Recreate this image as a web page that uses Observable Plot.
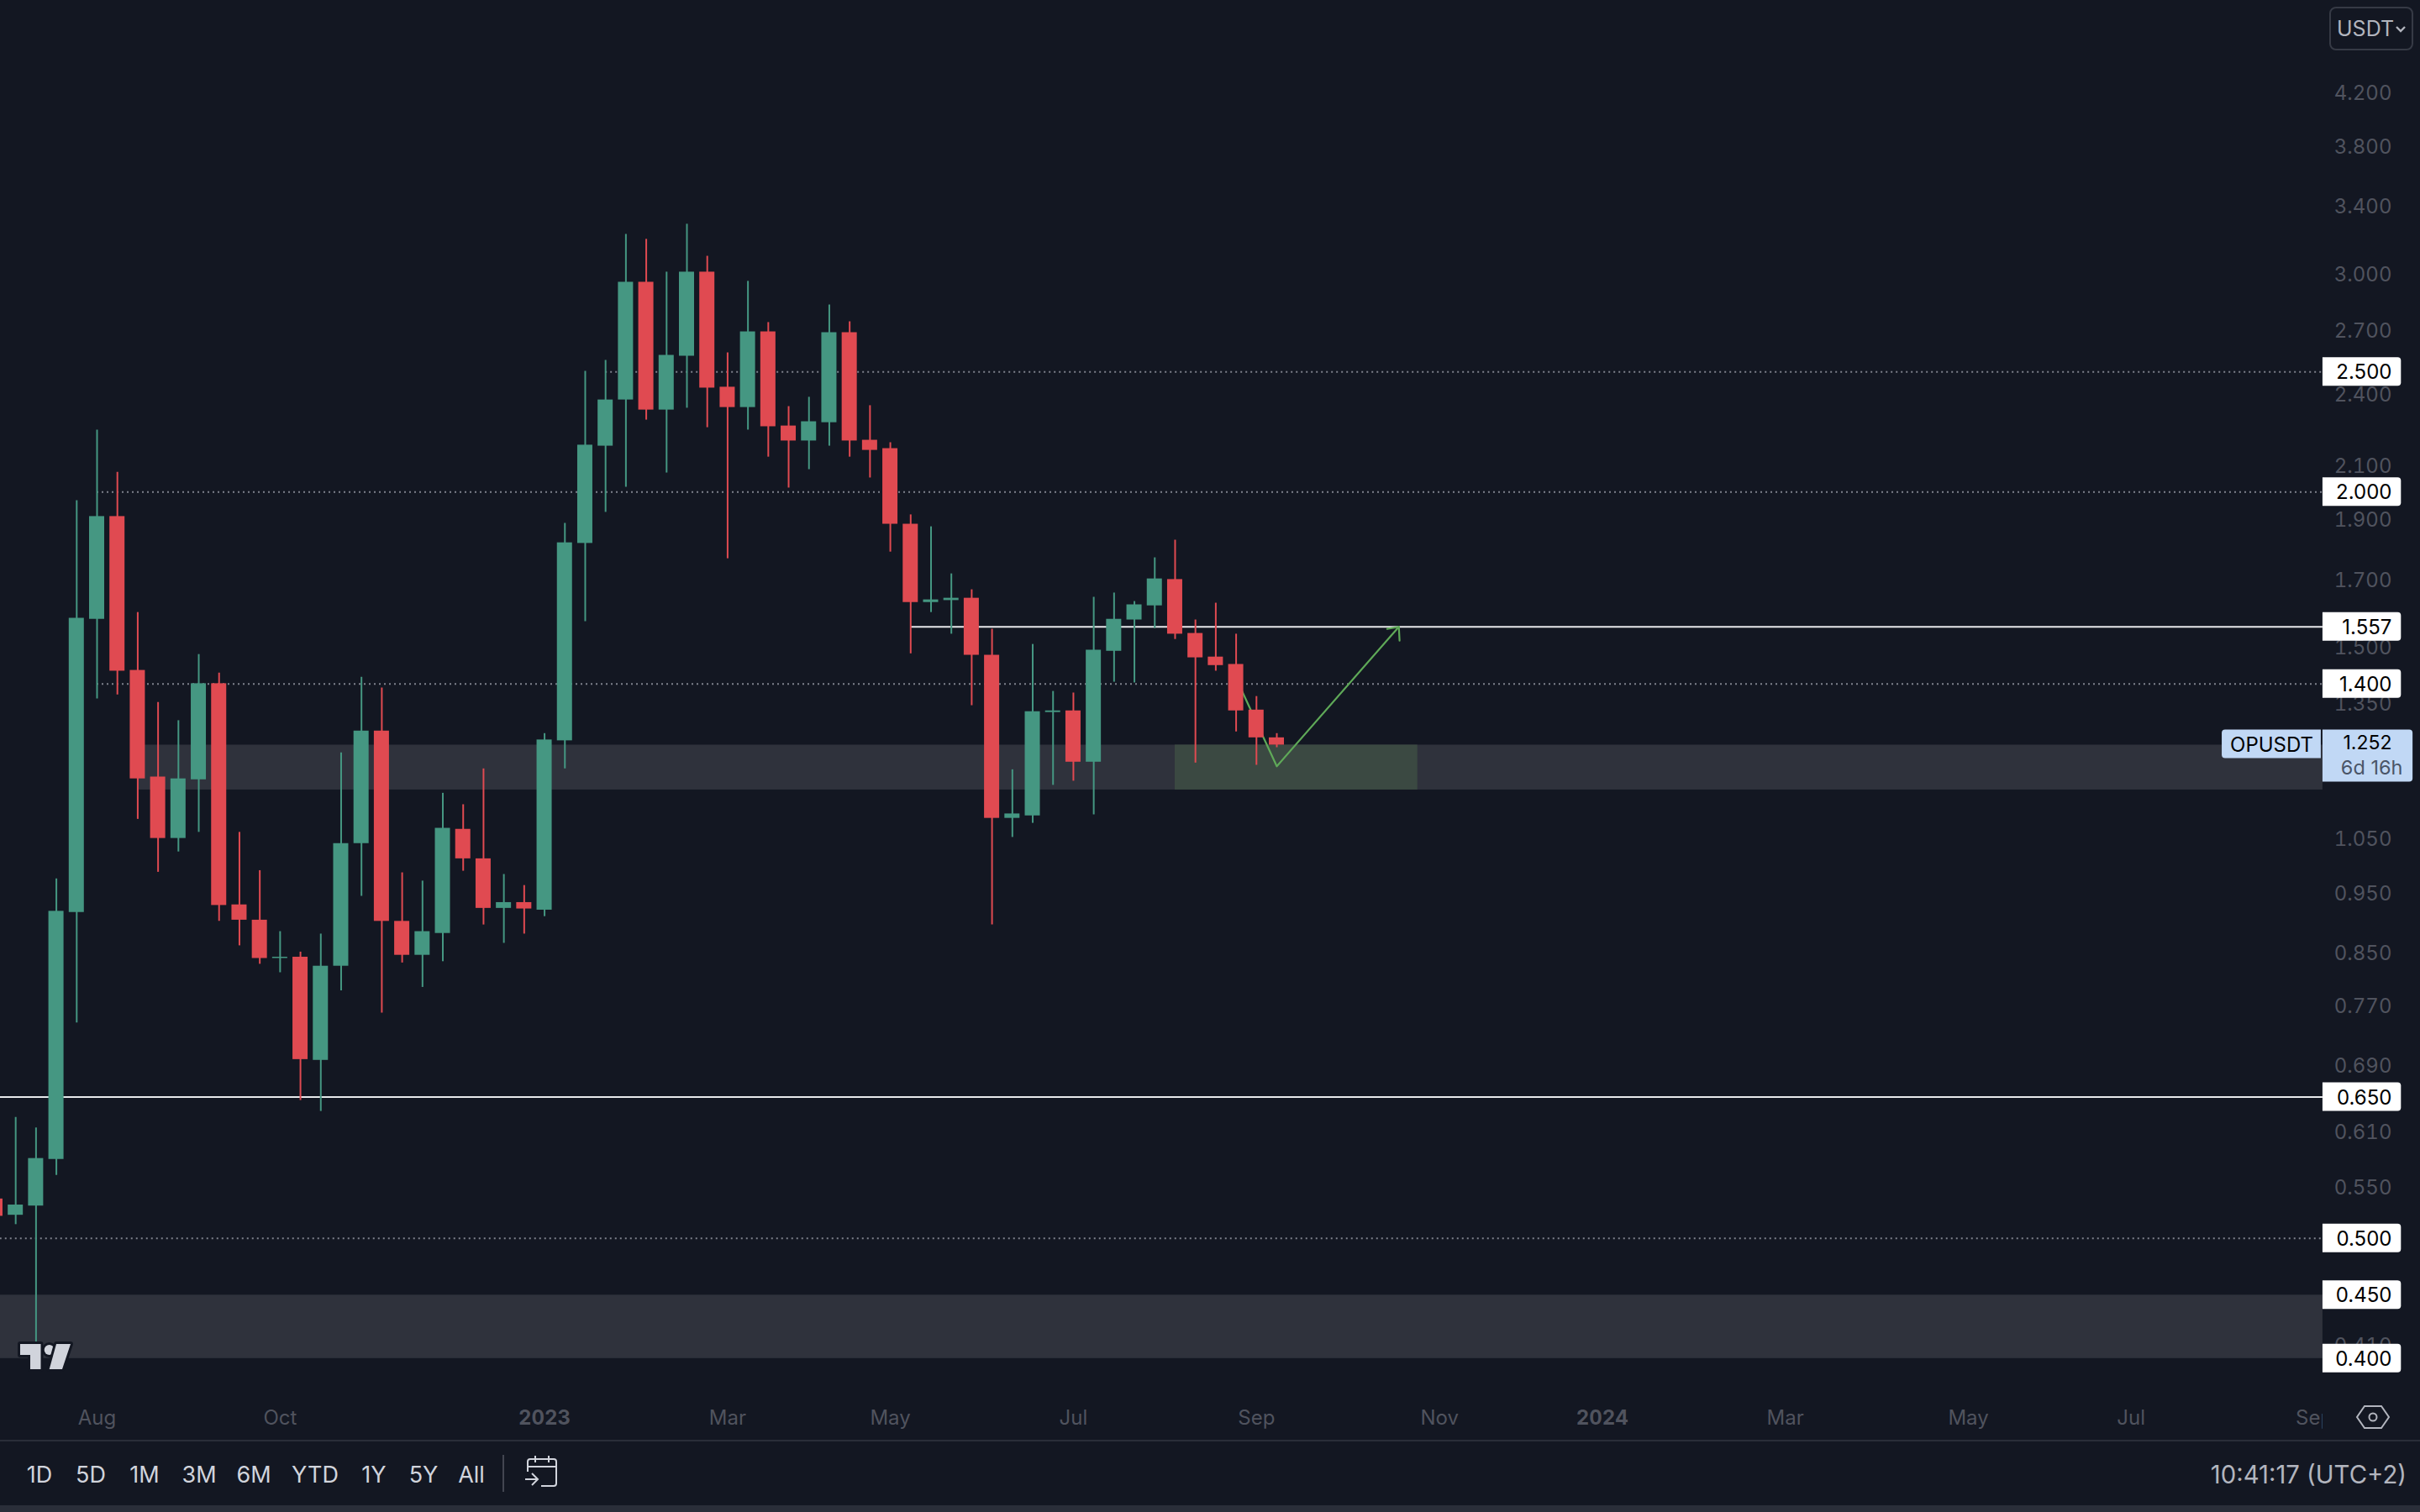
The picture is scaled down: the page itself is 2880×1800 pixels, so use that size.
<!DOCTYPE html>
<html><head><meta charset="utf-8">
<script src="https://cdn.jsdelivr.net/npm/d3@7"></script>
<script src="https://cdn.jsdelivr.net/npm/@observablehq/plot@0.6"></script>
<style>
html,body{margin:0;padding:0;background:#131722;overflow:hidden;width:2880px;height:1800px;font-family:Inter,sans-serif}
#wrap{position:relative;width:2880px;height:1800px}
#chart svg{display:block}
.abs{position:absolute}
#toolbar span{position:absolute;top:0;transform:translateX(-50%);line-height:80px;font-size:27px;color:#d1d4dc}
</style></head><body>
<div id="wrap">
<div id="chart"></div>
<div class="abs" style="left:2764px;top:1660px;width:116px;height:54px;background:#131722">
 <svg class="abs" style="left:38px;top:8px" width="44" height="38" viewBox="0 0 44 38" fill="none" stroke="#b2b5be" stroke-width="2"><path d="M12 6H32L41 19L32 32H12L3 19Z"/><circle cx="22" cy="19" r="4.5"/></svg>
</div>
<div class="abs" style="left:2772px;top:8px;width:96px;height:48px;border:2px solid #363a45;border-radius:8px;box-sizing:content-box;color:#b2b5be;font-size:25px;line-height:48px">
 <span style="position:absolute;left:7px">USDT</span>
 <svg class="abs" style="left:76px;top:20px" width="14" height="10" viewBox="0 0 14 10" fill="none" stroke="#b2b5be" stroke-width="2.4"><path d="M2 2L7 7L12 2"/></svg>
</div>
<svg class="abs" style="left:16px;top:1594px" width="76" height="42" viewBox="16 1594 76 42">
 <g fill="#d1d4dc" stroke="#131722" stroke-width="6" paint-order="stroke" stroke-linejoin="round">
  <path d="M24 1600H48.5V1630H36V1613H24Z"/><circle cx="58.7" cy="1607" r="6"/><path d="M67 1600H84L74 1630H58.7Z"/>
 </g>
</svg>
<div class="abs" style="left:0;top:1714px;width:2880px;height:2px;background:#2a2e39"></div>
<div id="toolbar" class="abs" style="left:0;top:1716px;width:2880px;height:76px">
 <span style="left:47px">1D</span><span style="left:108px">5D</span><span style="left:172px">1M</span><span style="left:237px">3M</span><span style="left:302px">6M</span><span style="left:375px">YTD</span><span style="left:445px">1Y</span><span style="left:504px">5Y</span><span style="left:561px">All</span>
 <div class="abs" style="left:598px;top:16px;width:2px;height:44px;background:#434651"></div>
 <svg class="abs" style="left:624px;top:16px" width="42" height="40" viewBox="0 0 42 40" fill="none" stroke="#d1d4dc" stroke-width="2">
  <path d="M4 20V8Q4 5 7 5H35Q38 5 38 8V34Q38 37 35 37H20M4 14H38M13 1V9M29 1V9M1 29H15M9 22L16 29L9 36"/>
 </svg>
 <span style="left:auto;right:16px;transform:none;font-size:29.3px;color:#b2b5be">10:41:17 (UTC+2)</span>
</div>
<div class="abs" style="left:0;top:1792px;width:2880px;height:8px;background:#2a2e39"></div>
</div>
<script>
const weeks = ["2022-06-27","2022-07-04","2022-07-11","2022-07-18","2022-07-25","2022-08-01","2022-08-08","2022-08-15","2022-08-22","2022-08-29","2022-09-05","2022-09-12","2022-09-19","2022-09-26","2022-10-03","2022-10-10","2022-10-17","2022-10-24","2022-10-31","2022-11-07","2022-11-14","2022-11-21","2022-11-28","2022-12-05","2022-12-12","2022-12-19","2022-12-26","2023-01-02","2023-01-09","2023-01-16","2023-01-23","2023-01-30","2023-02-06","2023-02-13","2023-02-20","2023-02-27","2023-03-06","2023-03-13","2023-03-20","2023-03-27","2023-04-03","2023-04-10","2023-04-17","2023-04-24","2023-05-01","2023-05-08","2023-05-15","2023-05-22","2023-05-29","2023-06-05","2023-06-12","2023-06-19","2023-06-26","2023-07-03","2023-07-10","2023-07-17","2023-07-24","2023-07-31","2023-08-07","2023-08-14","2023-08-21","2023-08-28","2023-09-04","2023-09-11"];
const highs = [0.560,0.626,0.614,0.975,1.968,2.244,2.075,1.599,1.353,1.308,1.479,1.429,1.063,0.990,0.884,0.851,
0.880,1.232,1.418,1.390,0.986,0.971,1.143,1.119,1.196,0.983,0.963,1.277,1.887,2.503,2.554,3.228,
3.198,3.009,3.289,3.099,2.590,2.958,2.740,2.344,2.385,2.831,2.744,2.348,2.192,1.917,1.875,1.718,
1.668,1.550,1.194,1.507,1.381,1.377,1.645,1.658,1.632,1.770,1.829,1.577,1.627,1.536,1.368,1.277];
const bodyTops = [0.538,0.532,0.580,0.918,1.582,1.911,1.911,1.436,1.178,1.174,1.401,1.401,0.929,0.903,0.843,0.843,
0.829,1.041,1.283,1.283,0.901,0.884,1.071,1.069,1.012,0.933,0.933,1.262,1.820,2.182,2.373,2.953,
2.953,2.578,3.009,3.009,2.430,2.693,2.693,2.261,2.279,2.689,2.689,2.202,2.168,1.884,1.637,1.642,
1.642,1.477,1.100,1.330,1.332,1.332,1.491,1.579,1.622,1.702,1.700,1.538,1.472,1.452,1.334,1.267];
const bodyBottoms = [0.521,0.522,0.531,0.579,0.916,1.579,1.434,1.174,1.051,1.051,1.172,0.928,0.903,0.841,0.841,0.697,
0.696,0.829,1.041,0.901,0.846,0.846,0.881,1.012,0.923,0.923,0.922,0.920,1.260,1.818,2.178,2.373,
2.329,2.329,2.574,2.426,2.340,2.340,2.258,2.199,2.199,2.275,2.199,2.161,1.884,1.629,1.629,1.635,
1.477,1.091,1.091,1.096,1.328,1.211,1.211,1.488,1.577,1.619,1.536,1.470,1.449,1.332,1.267,1.250];
const lows = [0.510,0.513,0.410,0.562,0.746,1.362,1.372,1.089,0.987,1.025,1.063,0.901,0.861,0.832,0.819,0.646,
0.633,0.792,0.944,0.760,0.834,0.797,0.836,0.989,0.895,0.865,0.880,0.909,1.196,1.572,1.926,2.018,
2.286,2.072,2.337,2.254,1.767,2.244,2.134,2.015,2.085,2.178,2.134,2.053,1.789,1.481,1.599,1.536,
1.345,0.895,1.053,1.081,1.160,1.169,1.098,1.405,1.403,1.552,1.521,1.209,1.434,1.281,1.204,1.244];
const directions = "rgggggrrrggrrrgrgggrrggrrgrgggggrggrrgrrggrrrrggrrgggrggggrrrrrr";

const priceTicks = [4.2,3.8,3.4,3.0,2.7,2.4,2.1,1.9,1.7,1.5,1.35,1.05,0.95,0.85,0.77,0.69,0.61,0.55,0.41];
const monthTicks = ["2022-08-01","2022-10-03","2023-03-06","2023-05-01","2023-07-03","2023-09-04","2023-11-06","2024-03-04","2024-05-06","2024-07-01","2024-09-02"];
const monthLabels = ["Aug","Oct","Mar","May","Jul","Sep","Nov","Mar","May","Jul","Sep"];
const yearTicks = ["2023-01-02","2024-01-01"];
const yearLabels = ["2023","2024"];

const solidLevels = [1.557,0.65];
const solidStarts = ["2023-05-08","2022-06-20"];
const dottedLevels = [2.5,2.0,1.4,0.5];
const dottedStarts = ["2023-01-23","2022-08-01","2022-08-01","2022-06-20"];
const tagLevels = [2.5,2.0,1.557,1.4,0.65,0.5,0.45,0.4];
const bandStarts = ["2022-08-15","2022-06-20"];
const bandTops = [1.25,0.45];
const bandBottoms = [1.15,0.40];
const boxDates = ["2023-08-07","2023-10-29T12:00"];
const pathDates = ["2023-08-28","2023-09-11","2023-10-23"];
const pathPrices = [1.415,1.2016,1.557];
const headDates = ["2023-10-19","2023-10-23","2023-10-23T06:00"];
const headPrices = [1.551,1.557,1.5175];
const lastPrice = 1.252;
const paneEnd = new Date("2024-09-05");
const tagEnd = new Date("2024-10-02");
const lastTagEnd = new Date("2024-10-06");
const symbolTagStart = new Date("2024-08-01T08:00Z");
const symbolTagEnd = new Date("2024-09-04T10:00Z");

const D = s => new Date(s.length > 10 ? s + "Z" : s);
const up = "#459782", down = "#e04a51", axisInk = "#50535e", band = "#2f323c";
const candles = weeks.map((w,i)=>({date:D(w),high:highs[i],low:lows[i],top:bodyTops[i],bottom:bodyBottoms[i],color:directions[i]==="g"?up:down}));
const tagRows = tagLevels.map(v=>({v}));
const lvlRow = (ls,ss)=>ls.map((v,i)=>({v,start:D(ss[i])}));
const bands = bandStarts.map((s,i)=>({start:D(s),top:bandTops[i],bottom:bandBottoms[i]}));
const fmt = d3.format(".3f");
const monthMap = new Map(monthTicks.map((t,i)=>[+D(t),monthLabels[i]]));
const yearMap = new Map(yearTicks.map((t,i)=>[+D(t),yearLabels[i]]));

const plot = Plot.plot({
  width:2880, height:1714,
  marginLeft:0, marginRight:116, marginTop:0, marginBottom:40,
  style:{background:"#131722",fontFamily:"Inter, sans-serif",fontSize:"24px"},
  x:{type:"utc",domain:[D("2022-08-01"),D("2023-09-11")],range:[115,1519]},
  y:{type:"log",domain:[2.5,0.4],range:[442.2,1616.8]},
  marks:[
    Plot.rect(bands,{x1:"start",x2:()=>paneEnd,y1:"top",y2:"bottom",fill:band}),
    Plot.rect([0],{x1:()=>D(boxDates[0]),x2:()=>D(boxDates[1]),y1:()=>bandTops[0],y2:()=>bandBottoms[0],fill:"#3b4942"}),
    Plot.ruleY(lvlRow(dottedLevels,dottedStarts),{y:"v",x1:"start",x2:()=>paneEnd,stroke:"#7e818c",strokeWidth:2,strokeDasharray:"2 4"}),
    Plot.ruleY(lvlRow(solidLevels,solidStarts),{y:"v",x1:"start",x2:()=>paneEnd,stroke:"#e8e9ec",strokeWidth:2}),
    Plot.line(pathDates.map((d,i)=>({d:D(d),p:pathPrices[i]})),{x:"d",y:"p",stroke:"#5fa958",strokeWidth:2.2}),
    Plot.line(headDates.map((d,i)=>({d:D(d),p:headPrices[i]})),{x:"d",y:"p",stroke:"#5fa958",strokeWidth:2.2}),
    Plot.ruleX(candles,{x:"date",y1:"low",y2:"high",stroke:"color",strokeWidth:2}),
    Plot.rect(candles,{x1:"date",x2:"date",y1:"top",y2:"bottom",fill:"color",insetLeft:-9,insetRight:-9}),
    Plot.axisY({anchor:"right",ticks:priceTicks,tickSize:0,tickPadding:82,textAnchor:"end",tickFormat:fmt,fill:axisInk,label:null,fontSize:24,dy:1}),
    Plot.axisX({anchor:"bottom",ticks:monthTicks.map(D),tickSize:0,tickPadding:4,tickFormat:d=>monthMap.get(+d),fill:axisInk,label:null,fontSize:24}),
    Plot.axisX({anchor:"bottom",ticks:yearTicks.map(D),tickSize:0,tickPadding:4,tickFormat:d=>yearMap.get(+d),fill:axisInk,label:null,fontSize:24,fontWeight:700}),
    Plot.rect(tagRows,{x1:()=>paneEnd,x2:()=>tagEnd,y1:"v",y2:"v",insetTop:-17,insetBottom:-17,fill:"#ffffff",rx2:4}),
    Plot.text(tagRows,{x:()=>paneEnd,y:"v",text:d=>fmt(d.v),dx:82,dy:1,textAnchor:"end",fill:"#000",fontSize:24}),
    Plot.rect([0],{x1:()=>symbolTagStart,x2:()=>symbolTagEnd,y1:()=>lastPrice,y2:()=>lastPrice,insetTop:-17,insetBottom:-17,fill:"#c1d8f5",rx1:4}),
    Plot.text(["OPUSDT"],{x:()=>symbolTagStart,y:()=>lastPrice,text:d=>d,dx:59,dy:1,textAnchor:"middle",fill:"#000",fontSize:24}),
    Plot.rect([0],{x1:()=>paneEnd,x2:()=>lastTagEnd,y1:()=>lastPrice,y2:()=>lastPrice,insetTop:-17,insetBottom:-45,fill:"#c1d8f5",rx2:4}),
    Plot.text([fmt(lastPrice)],{x:()=>paneEnd,y:()=>lastPrice,text:d=>d,dx:82,dy:-1,textAnchor:"end",fill:"#000",fontSize:23}),
    Plot.text(["6d 16h"],{x:()=>paneEnd,y:()=>lastPrice,text:d=>d,dx:95,dy:28.5,textAnchor:"end",fill:"#4a5568",fontSize:23.5})
  ]
});
document.getElementById("chart").appendChild(plot);
</script>
</body></html>
